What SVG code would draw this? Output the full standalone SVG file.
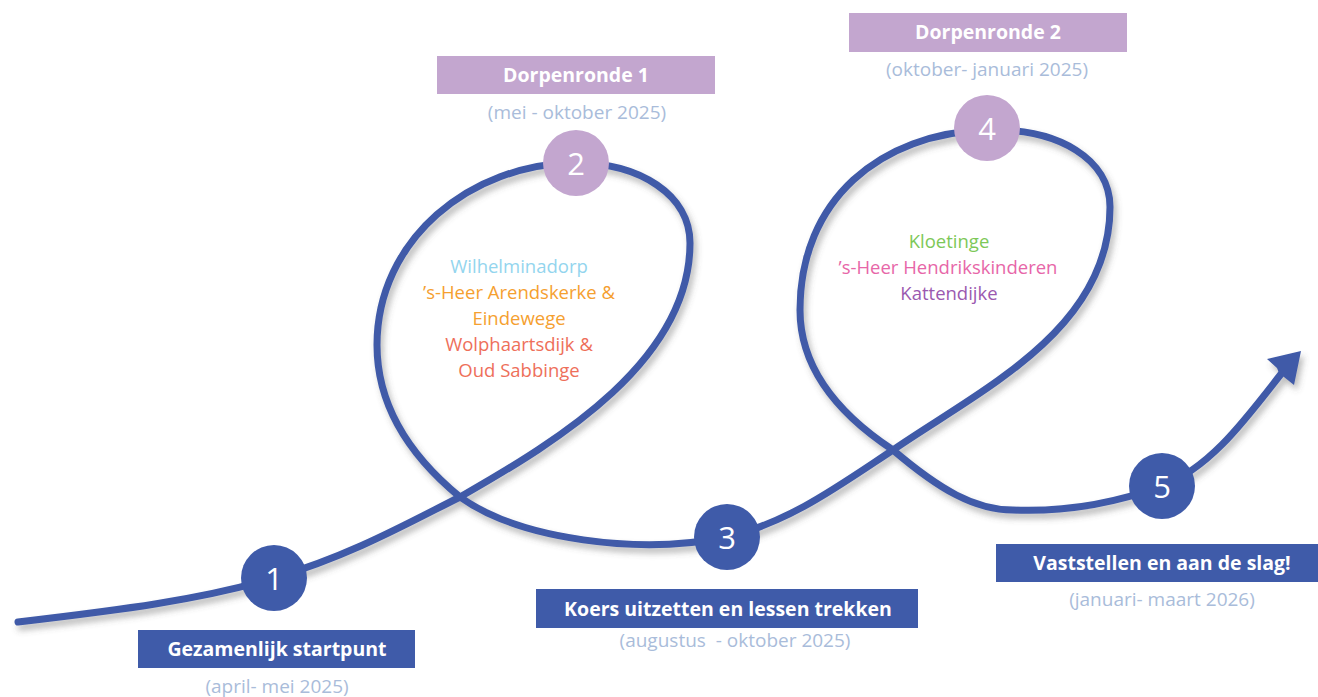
<svg xmlns="http://www.w3.org/2000/svg" width="1318" height="697" viewBox="0 0 1318 697">
<style>
.num{font-family:"Open Sans","Liberation Sans",sans-serif;font-size:31px;fill:#fff;text-anchor:middle}
.lbl{font-family:"Open Sans","Liberation Sans",sans-serif;font-size:19.5px;font-weight:bold;fill:#fff;text-anchor:middle}
.sub{font-family:"Open Sans","Liberation Sans",sans-serif;font-size:19px;fill:#A9BCDA;text-anchor:middle}
.in{font-family:"Open Sans","Liberation Sans",sans-serif;font-size:18.5px;text-anchor:middle}
.blue{fill:#3F5BA9}
.purple{fill:#C3A6CF}
.curve{fill:none;stroke:#3F5AA8;stroke-width:7;stroke-linecap:round;stroke-linejoin:round}
</style>
<defs>
<filter id="sh" x="-10%" y="-10%" width="120%" height="120%">
<feDropShadow dx="3" dy="5" stdDeviation="3" flood-color="#555" flood-opacity="0.4"/>
</filter>
</defs>
<rect width="1318" height="697" fill="#fff"/>
<g id="connectors" filter="url(#sh)">
<path class="curve" d="M18,622 C120,610 200,600 274,578 C350,556 410,522 460,497 C560,440 690,360 690,243 C690,195 640,163 576,163 C470,163 377,240 377,345 C377,410 415,460 460,497 C520,540 640,555 727,537 C790,522 840,485 893,450 C980,390 1110,330 1110,207 C1110,160 1060,128 987,130 C880,133 800,200 800,310 C800,370 840,415 893,450 C940,490 975,510 1013,510 C1060,512 1110,505 1162,486 C1210,468 1245,420 1281,374"/>
<polygon points="1301,351 1267,359 1277,368 1279,373 1284,377 1294,385" fill="#3F5AA8"/>
</g>
<g id="node1">
<circle class="blue" cx="274" cy="578" r="33"/>
<text class="num" x="274" y="590">1</text>
<rect class="blue" x="138" y="630" width="277" height="38"/>
<text class="lbl" x="277" y="656">Gezamenlijk startpunt</text>
<text class="sub" x="277" y="693">(april- mei 2025)</text>
</g>
<g id="node2">
<circle class="purple" cx="576" cy="163" r="33"/>
<text class="num" x="576" y="175">2</text>
<rect class="purple" x="437" y="56" width="278" height="38"/>
<text class="lbl" x="576" y="82">Dorpenronde 1</text>
<text class="sub" x="577" y="119">(mei - oktober 2025)</text>
<text class="in" x="519" y="273" fill="#93D5EE">Wilhelminadorp</text>
<text class="in" x="519" y="299" fill="#F5A030">’s-Heer Arendskerke &amp;</text>
<text class="in" x="519" y="325" fill="#F5A030">Eindewege</text>
<text class="in" x="519" y="351" fill="#EE6F5A">Wolphaartsdijk &amp;</text>
<text class="in" x="519" y="377" fill="#EE6F5A">Oud Sabbinge</text>
</g>
<g id="node3">
<circle class="blue" cx="727" cy="537" r="33"/>
<text class="num" x="727" y="549">3</text>
<rect class="blue" x="536" y="589" width="382" height="39"/>
<text class="lbl" x="728" y="616">Koers uitzetten en lessen trekken</text>
<text class="sub" x="735" y="647" xml:space="preserve">(augustus  - oktober 2025)</text>
</g>
<g id="node4">
<circle class="purple" cx="987" cy="128" r="33"/>
<text class="num" x="987" y="140">4</text>
<rect class="purple" x="849" y="13" width="278" height="39"/>
<text class="lbl" x="988" y="39">Dorpenronde 2</text>
<text class="sub" x="987" y="76">(oktober- januari 2025)</text>
<text class="in" x="949" y="248" fill="#7DC858">Kloetinge</text>
<text class="in" x="948" y="274" fill="#E766A8">’s-Heer Hendrikskinderen</text>
<text class="in" x="949" y="300" fill="#9B59B0">Kattendijke</text>
</g>
<g id="node5">
<circle class="blue" cx="1162" cy="486" r="33"/>
<text class="num" x="1162" y="498">5</text>
<rect class="blue" x="996" y="544" width="322" height="38"/>
<text class="lbl" x="1162" y="570">Vaststellen en aan de slag!</text>
<text class="sub" x="1162" y="606">(januari- maart 2026)</text>
</g>
</svg>
